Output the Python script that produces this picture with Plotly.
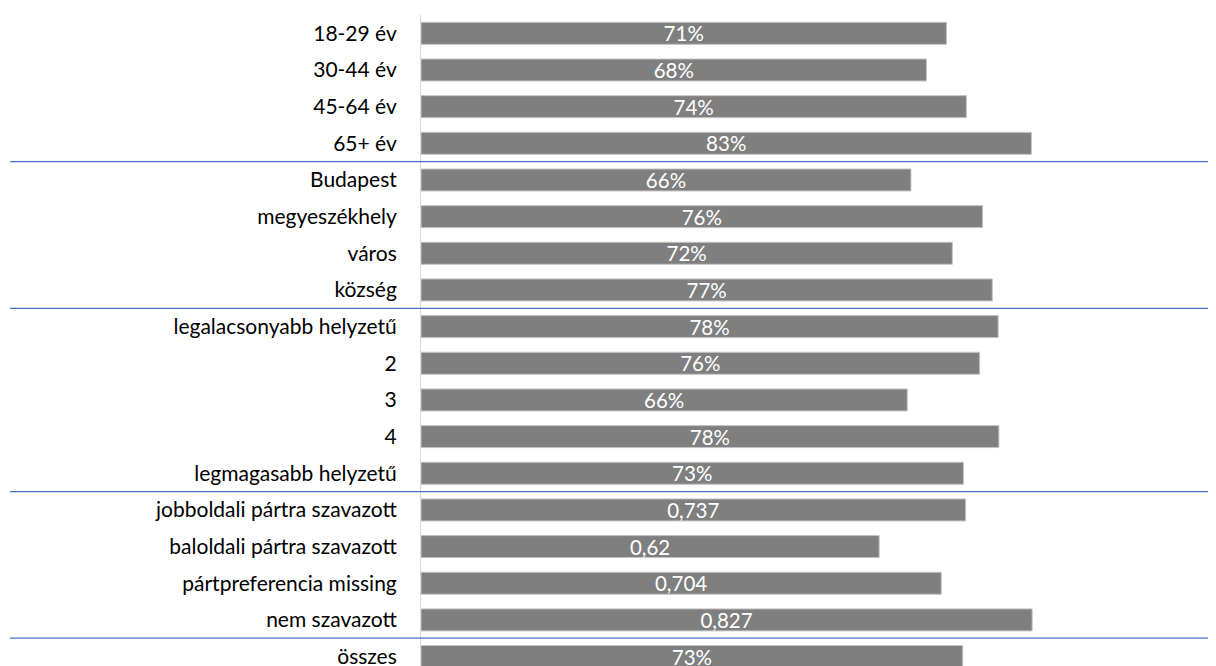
import plotly.graph_objects as go

categories = [
    "18-29 év", "30-44 év", "45-64 év", "65+ év",
    "Budapest", "megyeszékhely", "város", "község",
    "legalacsonyabb helyzetű", "2", "3", "4", "legmagasabb helyzetű",
    "jobboldali pártra szavazott", "baloldali pártra szavazott",
    "pártpreferencia missing", "nem szavazott",
    "összes",
]
values = [
    0.711, 0.684, 0.738, 0.826,
    0.663, 0.760, 0.719, 0.773,
    0.781, 0.756, 0.658, 0.782, 0.734,
    0.737, 0.62, 0.704, 0.827,
    0.733,
]
# label style as shown in the chart: percent or raw decimal (comma separator)
label_style = [
    "pct", "pct", "pct", "pct",
    "pct", "pct", "pct", "pct",
    "pct", "pct", "pct", "pct", "pct",
    "dec", "dec", "dec", "dec",
    "pct",
]
# group separators fall between these category indices
separators_after = [3, 7, 12, 16]

labels = [
    f"{int(v * 100 + 0.5)}%" if s == "pct" else str(v).replace(".", ",")
    for v, s in zip(values, label_style)
]

W, H = 1216, 666
L, R, T, B = 413, 64, 7, 0
plot_w = W - L - R
plot_h = H - T - B
pitch = 36.66

fig = go.Figure(
    go.Bar(
        x=values,
        y=categories,
        orientation="h",
        marker=dict(color="#7f7f7f", line=dict(color="#c4c4c4", width=1)),
        text=labels,
        textposition="inside",
        insidetextanchor="middle",
        constraintext="none",
        textfont=dict(color="white", size=20.5, family="Lato"),
        hoverinfo="skip",
    )
)

shapes = []
for s in separators_after:
    shapes.append(
        dict(
            type="line",
            xref="paper",
            yref="y",
            x0=(2 - L) / plot_w,
            x1=(W - L) / plot_w,
            y0=s + 0.5,
            y1=s + 0.5,
            line=dict(color="#4472c4", width=1.3),
            layer="above",
        )
    )

fig.update_layout(
    width=W,
    height=H,
    margin=dict(l=L, r=R, t=T, b=B),
    paper_bgcolor="white",
    plot_bgcolor="white",
    bargap=0.4,
    showlegend=False,
    shapes=shapes,
    font=dict(family="Lato", size=21, color="#000000"),
)
fig.update_xaxes(
    range=[0, 1],
    showgrid=False,
    zeroline=False,
    showticklabels=False,
    showline=False,
)
fig.update_yaxes(
    type="category",
    categoryorder="array",
    categoryarray=categories,
    range=[-0.5 + plot_h / pitch, -0.5],
    showgrid=False,
    zeroline=False,
    showline=True,
    linecolor="#d9d9d9",
    linewidth=1,
    ticks="",
    ticklabelstandoff=19,
    tickfont=dict(family="Lato", size=21, color="#000000"),
)

fig.write_html("out.html")
